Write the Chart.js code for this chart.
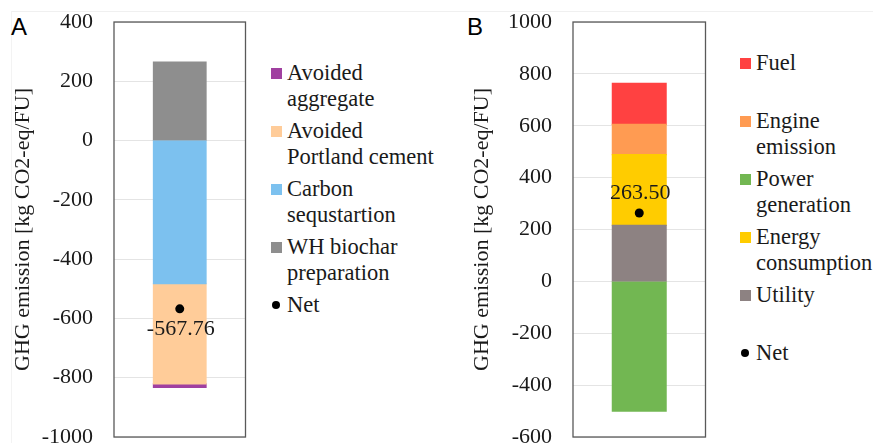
<!DOCTYPE html>
<html>
<head>
<meta charset="utf-8">
<script src="https://cdn.jsdelivr.net/npm/chart.js@4.4.1/dist/chart.umd.min.js"></script>
<style>
html, body { margin: 0; padding: 0; width: 873px; height: 443px; overflow: hidden; background: #fff; }
#frame { position: absolute; left: 11px; top: 11px; width: 870px; height: 440px; border-top: 1px solid #f0f0f0; border-left: 1px solid #f3f3f3; }
.tag { position: absolute; top: 15px; font: 24px "Liberation Sans", Arial, sans-serif; line-height: 24px; color: #000; }
canvas { position: absolute; top: 0; }
.leg { position: absolute; font-size: 22.5px; font-family: "Liberation Serif", "Times New Roman", serif; line-height: 26px; color: #1a1a1a; white-space: nowrap; }
.sw { position: absolute; left: 0; top: 8px; width: 11px; height: 11px; }
.dot { position: absolute; left: 1px; top: 9px; width: 8px; height: 8px; border-radius: 50%; background: #000; }
.tx { position: absolute; left: 16px; top: 0; }
</style>
</head>
<body>
<div id="frame"></div>
<div class="tag" style="left:11px">A</div>
<div class="tag" style="left:467px">B</div>
<canvas id="chartA" width="250" height="460" style="left:0"></canvas>
<canvas id="chartB" width="270" height="460" style="left:440px"></canvas>
<div id="legA"></div>
<div id="legB"></div>
<script>
// panel A - stacking order: first negative dataset sits next to zero
var catsA = ['Carbon sequstartion', 'Avoided Portland cement', 'Avoided aggregate', 'WH biochar preparation'];
var valsA = [-483, -338, -12, 265];
var colsA = ['#7cc1ef', '#ffcc99', '#a040a0', '#8e8e8e'];
var netA = -567.76;
var legOrderA = [2, 1, 0, 3];
var legLinesA = [['Carbon', 'sequstartion'], ['Avoided', 'Portland cement'], ['Avoided', 'aggregate'], ['WH biochar', 'preparation']];

// panel B
var catsB = ['Utility', 'Energy consumption', 'Engine emission', 'Fuel', 'Power generation'];
var valsB = [216, 273, 116, 158, -500];
var colsB = ['#8d8282', '#ffcc00', '#ff9b52', '#ff4141', '#72b752'];
var netB = 263.50;
var legOrderB = [3, 2, 4, 1, 0];
var legLinesB = [['Utility'], ['Energy', 'consumption'], ['Engine', 'emission'], ['Fuel'], ['Power', 'generation']];

var serif = '"Liberation Serif", "Times New Roman", serif';

var boxPlugin = {
  id: 'box',
  afterDraw: function(chart) {
    var a = chart.chartArea, ctx = chart.ctx;
    ctx.save();
    ctx.strokeStyle = '#595959';
    ctx.lineWidth = 1.3;
    ctx.strokeRect(a.left, a.top, a.right - a.left, a.bottom - a.top);
    ctx.restore();
  }
};

var netLabel = {
  id: 'netLabel',
  afterDatasetsDraw: function(chart, args, opts) {
    var meta = chart.getDatasetMeta(chart.data.datasets.length - 1);
    var pt = meta.data[0];
    var ctx = chart.ctx;
    ctx.save();
    ctx.font = '22px ' + serif;
    ctx.fillStyle = '#1a1a1a';
    ctx.textAlign = 'center';
    ctx.textBaseline = 'middle';
    ctx.fillText(opts.text, pt.x + opts.dx, pt.y + opts.dy);
    ctx.restore();
  }
};

function makeChart(id, cats, vals, cols, net, ymin, ymax, axisW, titlePad, barPct, labelDy) {
  var ds = [];
  for (let i = 0; i < cats.length; i++) {
    ds.push({
      type: 'bar',
      label: cats[i],
      data: [vals[i]],
      backgroundColor: cols[i],
      borderWidth: 0,
      inflateAmount: 0.6,
      barPercentage: barPct,
      categoryPercentage: 1,
      order: 1
    });
  };
  ds.push({
    type: 'line',
    label: 'Net',
    data: [net],
    showLine: false,
    pointRadius: 4.5,
    pointBackgroundColor: '#000',
    pointBorderWidth: 0,
    stack: 'net',
    order: 0
  });

  return new Chart(document.getElementById(id), {
    data: { labels: [''], datasets: ds },
    options: {
      responsive: false,
      animation: false,
      layout: { padding: { top: 22, bottom: 23, right: 3, left: 0 } },
      scales: {
        x: { stacked: true, display: false },
        y: {
          stacked: true,
          min: ymin,
          max: ymax,
          ticks: {
            stepSize: 200,
            padding: 21,
            color: '#1a1a1a',
            font: { family: serif, size: 22 },
            callback: function(v) { return String(v); }
          },
          grid: { color: '#e4e4e4', drawTicks: false },
          border: { display: false },
          title: {
            display: true,
            text: 'GHG emission [kg CO2-eq/FU]',
            color: '#1a1a1a',
            font: { family: serif, size: 22 },
            padding: { top: titlePad, bottom: 0 }
          },
          // fixed axis width, no extra room for the end labels
          afterFit: function(s) { s.width = axisW; s.paddingTop = 0; s.paddingBottom = 0; }
        }
      },
      plugins: {
        legend: { display: false },
        tooltip: { enabled: false },
        netLabel: { text: net.toFixed(2), dx: 1, dy: labelDy }
      }
    },
    plugins: [boxPlugin, netLabel]
  });
};

function makeLegend(id, left, firstY, order, lines, cols) {
  var el = document.getElementById(id);
  var html = '';
  let y = firstY - 13;
  for (let k = 0; k < order.length; k++) {
    let i = order[k];
    html += '<div class="leg" style="left:' + left + 'px;top:' + y + 'px"><span class="sw" style="background:' + cols[i] + '"></span><span class="tx">' + lines[i].join('<br>') + '</span></div>';
    y += 58;
  };
  html += '<div class="leg" style="left:' + left + 'px;top:' + y + 'px"><span class="dot"></span><span class="tx">Net</span></div>';
  el.innerHTML = html;
};

makeChart('chartA', catsA, valsA, colsA, netA, -1000, 400, 114, 10, 0.4, 20);
makeChart('chartB', catsB, valsB, colsB, netB, -600, 1000, 133, 29, 0.406, -20);
makeLegend('legA', 271, 73, legOrderA, legLinesA, colsA);
makeLegend('legB', 740, 63, legOrderB, legLinesB, colsB);
</script>
</body>
</html>
